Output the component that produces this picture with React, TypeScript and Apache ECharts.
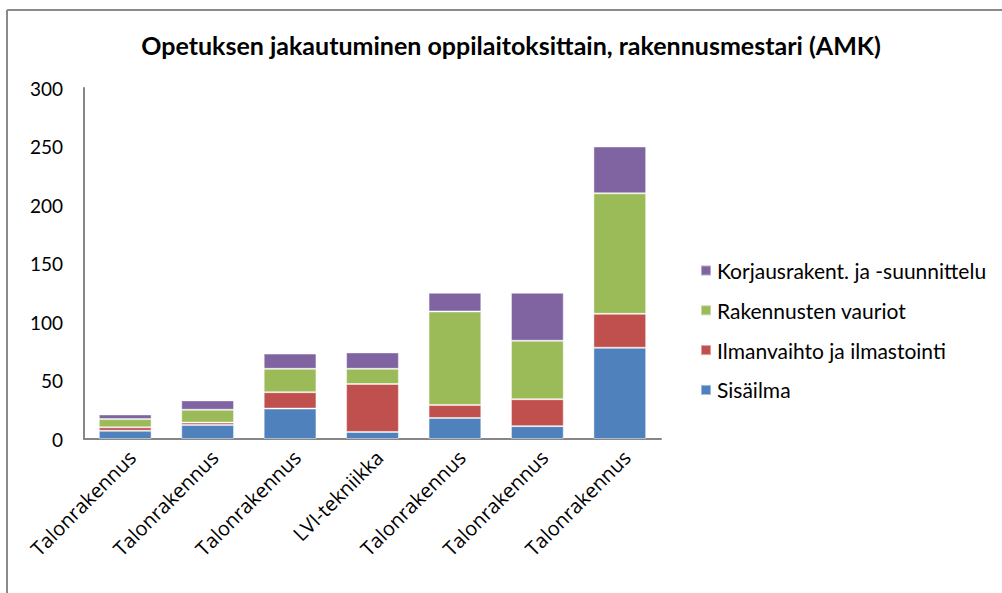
import React, { useEffect, useRef } from "react";
import * as echarts from "echarts";

const categories = [
  "Talonrakennus",
  "Talonrakennus",
  "Talonrakennus",
  "LVI-tekniikka",
  "Talonrakennus",
  "Talonrakennus",
  "Talonrakennus",
];
const sisailma = [7, 12, 26, 6, 18, 11, 78];
const ilmanvaihto = [3, 2, 14, 41, 11, 23, 29];
const vauriot = [7, 11, 20, 13, 80, 50, 103];
const korjaus = [4, 8, 13, 14, 16, 41, 40];
const yTicks = { min: 0, max: 300, interval: 50 };

const FONT = "Lato";

export default function App() {
  const ref = useRef<HTMLDivElement>(null);
  useEffect(() => {
    if (!ref.current) return;
    const chart = echarts.init(ref.current, undefined, { renderer: "svg" });
    const mk = (name: string, data: number[], color: string) => ({
      name,
      type: "bar",
      stack: "total",
      data,
      barWidth: "64%",
      itemStyle: { color, borderColor: "rgba(255,255,255,0.45)", borderWidth: 1 },
    });
    chart.setOption({
      animation: false,
      textStyle: { fontFamily: FONT },
      title: {
        text: "Opetuksen jakautuminen oppilaitoksittain, rakennusmestari (AMK)",
        left: 506,
        textAlign: "center",
        top: 27,
        textStyle: { fontFamily: FONT, fontWeight: "bold", fontSize: 25, color: "#000" },
      },
      graphic: [
        {
          type: "line",
          shape: { x1: 7, y1: 10, x2: 1002, y2: 10 },
          style: { stroke: "#8a8a8a", lineWidth: 2 },
        },
        {
          type: "line",
          shape: { x1: 7, y1: 10, x2: 7, y2: 593 },
          style: { stroke: "#8a8a8a", lineWidth: 2 },
        },
      ],
      legend: {
        orient: "vertical",
        left: 695,
        top: 255,
        itemWidth: 10,
        itemHeight: 10,
        itemGap: 18.8,
        icon: "rect",
        data: [
          "Korjausrakent. ja -suunnittelu",
          "Rakennusten vauriot",
          "Ilmanvaihto ja ilmastointi",
          "Sisäilma",
        ],
        textStyle: { fontFamily: FONT, fontSize: 21, color: "#000", padding: [0, 0, 0, 1], lineHeight: 21 },
      },
      grid: { left: 84, top: 88, right: 341, bottom: 154 },
      xAxis: {
        type: "category",
        data: categories,
        axisLine: { lineStyle: { color: "#868686", width: 2 } },
        axisTick: { show: false },
        axisLabel: {
          rotate: 45,
          fontFamily: "Open Sans",
          fontSize: 20,
          color: "#000",
          margin: 8,
          interval: 0,
          verticalAlign: "top",
        },
      },
      yAxis: {
        type: "value",
        min: yTicks.min,
        max: yTicks.max,
        interval: yTicks.interval,
        axisLine: { show: true, lineStyle: { color: "#868686", width: 2 } },
        axisTick: { show: false },
        axisLabel: { fontFamily: FONT, fontSize: 19, color: "#000", margin: 21 },
        splitLine: {
          lineStyle: {
            color: "#8a8a8a",
            width: 1.5,
            shadowColor: "rgba(0,0,0,0.2)",
            shadowOffsetY: 1.5,
            shadowBlur: 1,
          },
        },
      },
      series: [
        mk("Sisäilma", sisailma, "#4F81BD"),
        mk("Ilmanvaihto ja ilmastointi", ilmanvaihto, "#C0504D"),
        mk("Rakennusten vauriot", vauriot, "#9BBB59"),
        mk("Korjausrakent. ja -suunnittelu", korjaus, "#8064A2"),
      ],
    });
    return () => chart.dispose();
  }, []);
  return (
    <div
      ref={ref}
      style={{ position: "fixed", left: 0, top: 0, width: 1002, height: 593, background: "#fff" }}
    />
  );
}
